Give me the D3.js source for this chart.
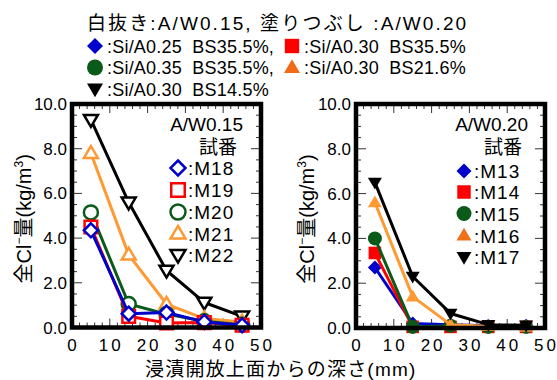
<!DOCTYPE html>
<html>
<head>
<meta charset="utf-8">
<script src="https://cdn.jsdelivr.net/npm/d3@7"></script>
<style>
  body { margin: 0; background: #fff; }
  text { font-family: "Liberation Sans", "Noto Sans CJK JP", sans-serif; fill: #000; }
</style>
</head>
<body>
<script>
// depth (mm) and total Cl- (kg/m3)
var depth = [5, 15, 25, 35, 45];

var m18 = [4.35, 0.62, 0.67, 0.25, 0.10];
var m19 = [4.50, 0.50, 0.20, 0.22, 0.10];
var m20 = [5.15, 1.05, 0.60, 0.28, 0.12];
var m21 = [7.80, 3.25, 1.05, 0.40, 0.25];
var m22 = [9.30, 5.60, 2.55, 1.12, 0.50];

var m13 = [2.70, 0.20, 0.15, 0.10, 0.10];
var m14 = [3.35, 0.05, 0.05, 0.05, 0.05];
var m15 = [4.00, 0.05, 0.10, 0.05, 0.05];
var m16 = [5.60, 1.40, 0.15, 0.08, 0.05];
var m17 = [6.50, 2.30, 0.65, 0.15, 0.12];

var xTicks = [0, 10, 20, 30, 40, 50];
var yTicks = [0, 2, 4, 6, 8, 10];

var legendTop = [
  { shape: "diamond", color: "#0000cc", text: ":Si/A0.25\u00a0\u00a0BS35.5%," },
  { shape: "square",  color: "#ff0000", text: ":Si/A0.30\u00a0\u00a0BS35.5%" },
  { shape: "circle",  color: "#0a5a1a", text: ":Si/A0.35\u00a0\u00a0BS35.5%," },
  { shape: "up",      color: "#f06a18", text: ":Si/A0.30\u00a0\u00a0BS21.6%" },
  { shape: "down",    color: "#000000", text: ":Si/A0.30\u00a0\u00a0BS14.5%" }
];

var colors = { diamond: "#0000cc", square: "#ff0000", circle: "#0a5a1a", up: "#ff9933", down: "#000000" };

var leftSeries = [
  { name: "M18", shape: "diamond", values: m18 },
  { name: "M19", shape: "square",  values: m19 },
  { name: "M20", shape: "circle",  values: m20 },
  { name: "M21", shape: "up",      values: m21 },
  { name: "M22", shape: "down",    values: m22 }
];
var rightSeries = [
  { name: "M13", shape: "diamond", values: m13 },
  { name: "M14", shape: "square",  values: m14 },
  { name: "M15", shape: "circle",  values: m15 },
  { name: "M16", shape: "up",      values: m16 },
  { name: "M17", shape: "down",    values: m17 }
];

var svg = d3.select("body").append("svg")
  .attr("width", 557)
  .attr("height", 380);

// write a string char by char with an extra gap between chars
function spaced(t, str, gap) {
  str.split("").forEach(function (ch, i) {
    t.append("tspan").attr("dx", i === 0 ? 0 : gap).text(ch);
  });
  return t;
}

// marker path, s = half size
function markerPath(shape, s) {
  if (shape === "diamond") return "M0," + (-s) + "L" + s + ",0L0," + s + "L" + (-s) + ",0Z";
  if (shape === "square") { var q = s * 0.9; return "M" + (-q) + "," + (-q) + "H" + q + "V" + q + "H" + (-q) + "Z"; }
  if (shape === "circle") return "M" + s + ",0A" + s + "," + s + " 0 1,1 " + (-s) + ",0A" + s + "," + s + " 0 1,1 " + s + ",0Z";
  var h = s * 1.7, w = s * 1.0;
  if (shape === "up") return "M0," + (-h * 0.6) + "L" + w + "," + (h * 0.4) + "L" + (-w) + "," + (h * 0.4) + "Z";
  return "M0," + (h * 0.6) + "L" + w + "," + (-h * 0.4) + "L" + (-w) + "," + (-h * 0.4) + "Z";
}

function drawMarker(g, shape, x, y, s, color, filled) {
  g.append("path")
    .attr("transform", "translate(" + x + "," + y + ")")
    .attr("d", markerPath(shape, s))
    .attr("fill", filled ? color : "#fff")
    .attr("stroke", color)
    .attr("stroke-width", filled ? 0 : 2.5);
}

// top legend
var lg = svg.append("g");
spaced(lg.append("text").attr("x", 87).attr("y", 30).style("font-size", "19px"),
  "白抜き:A/W0.15, 塗りつぶし :A/W0.20", 2.1);
var legendPos = [[95, 52.5], [292, 52.5], [95, 74], [292, 74], [95, 95.5]];
legendTop.forEach(function (d, i) {
  var p = legendPos[i];
  drawMarker(lg, d.shape, p[0], p[1] - 6.5, 8, d.color, true);
  spaced(lg.append("text").attr("x", p[0] + 12).attr("y", p[1]).style("font-size", "18px"), d.text, 0.2);
});

function panel(opts) {
  var xScale = d3.scaleLinear().domain([0, 50]).range([opts.x0, opts.x1]);
  var yScale = d3.scaleLinear().domain([0, 10]).range([opts.y0, opts.y1]);
  var g = svg.append("g");

  // inner ticks
  var minorX = d3.range(0, 50.01, 2), minorY = d3.range(0, 10.01, 0.5);
  minorX.forEach(function (v) {
    var major = v % 10 === 0, len = major ? 9 : 5;
    g.append("line").attr("x1", xScale(v)).attr("x2", xScale(v))
      .attr("y1", opts.y0).attr("y2", opts.y0 - len).attr("stroke", "#333").attr("stroke-width", 1);
    g.append("line").attr("x1", xScale(v)).attr("x2", xScale(v))
      .attr("y1", opts.y1).attr("y2", opts.y1 + len).attr("stroke", "#333").attr("stroke-width", 1);
  });
  minorY.forEach(function (v) {
    var major = Math.abs(v % 2) < 1e-6, len = major ? 10 : 5;
    g.append("line").attr("y1", yScale(v)).attr("y2", yScale(v))
      .attr("x1", opts.x0).attr("x2", opts.x0 + len).attr("stroke", "#333").attr("stroke-width", 1);
    g.append("line").attr("y1", yScale(v)).attr("y2", yScale(v))
      .attr("x1", opts.x1).attr("x2", opts.x1 - len).attr("stroke", "#333").attr("stroke-width", 1);
  });

  // tick labels
  xTicks.forEach(function (v) {
    var t = g.append("text").attr("y", 351).style("font-size", "17px")
      .attr("x", xScale(v)).attr("text-anchor", "middle");
    spaced(t, String(v), 3);
  });
  yTicks.forEach(function (v) {
    g.append("text").attr("x", opts.x0 - 5).attr("y", yScale(v) + 6)
      .attr("text-anchor", "end").style("font-size", "17px")
      .text(d3.format(".1f")(v));
  });

  // y title
  var yt = g.append("text")
    .attr("transform", "translate(" + opts.titleX + "," + ((opts.y0 + opts.y1) / 2 + 3) + ") rotate(-90)")
    .attr("text-anchor", "middle").style("font-size", "20px");
  yt.append("tspan").text("全Cl");
  yt.append("tspan").attr("dy", -8).style("font-size", "12px").text("−");
  yt.append("tspan").attr("dy", 8).text("量(kg/m");
  yt.append("tspan").attr("dy", -8).style("font-size", "12px").text("3");
  yt.append("tspan").attr("dy", 8).text(")");

  // legend in plot
  g.append("text").attr("x", opts.lgTitleX).attr("y", 131).attr("text-anchor", "end")
    .style("font-size", "19px").text(opts.title);
  g.append("text").attr("x", opts.lgTitleX - 6).attr("y", 154).attr("text-anchor", "end")
    .style("font-size", "19px").text("試番");
  opts.series.forEach(function (s, i) {
    var y = opts.lgY[i];
    drawMarker(g, s.shape, opts.lgMx, y, 7.5, s.shape === "up" && opts.filled ? "#f07018" : colors[s.shape], opts.filled);
    spaced(g.append("text").attr("x", opts.lgMx + 10).attr("y", y + 7)
      .style("font-size", "19px"), ":" + s.name, 1);
  });

  // series
  var line = d3.line()
    .x(function (d, i) { return xScale(depth[i]); })
    .y(function (d) { return yScale(d); });
  opts.order.forEach(function (idx) {
    var s = opts.series[idx], c = colors[s.shape];
    g.append("path").attr("d", line(s.values)).attr("fill", "none")
      .attr("stroke", c).attr("stroke-width", 3).attr("stroke-linejoin", "round");
    s.values.forEach(function (v, i) {
      drawMarker(g, s.shape, xScale(depth[i]), yScale(v), 7, c, opts.filled);
    });
  });

  // frame
  g.append("rect").attr("x", opts.x0).attr("y", opts.y1)
    .attr("width", opts.x1 - opts.x0).attr("height", opts.y0 - opts.y1)
    .attr("fill", "none").attr("stroke", "#000").attr("stroke-width", 4.5);
}

panel({ x0: 72, x1: 261, y0: 327.5, y1: 104, titleX: 31, series: leftSeries, filled: false,
  title: "A/W0.15", lgTitleX: 243, lgMx: 178, lgY: [168, 190, 212, 233.5, 255], order: [4, 3, 2, 1, 0] });
panel({ x0: 356, x1: 545, y0: 328, y1: 104, titleX: 314, series: rightSeries, filled: true,
  title: "A/W0.20", lgTitleX: 528, lgMx: 464, lgY: [171, 192, 213.5, 235.5, 257], order: [0, 1, 2, 3, 4] });

spaced(svg.append("text").attr("x", 145).attr("y", 376)
  .style("font-size", "19px"), "浸漬開放上面からの深さ(mm)", 1.2);
</script>
</body>
</html>
